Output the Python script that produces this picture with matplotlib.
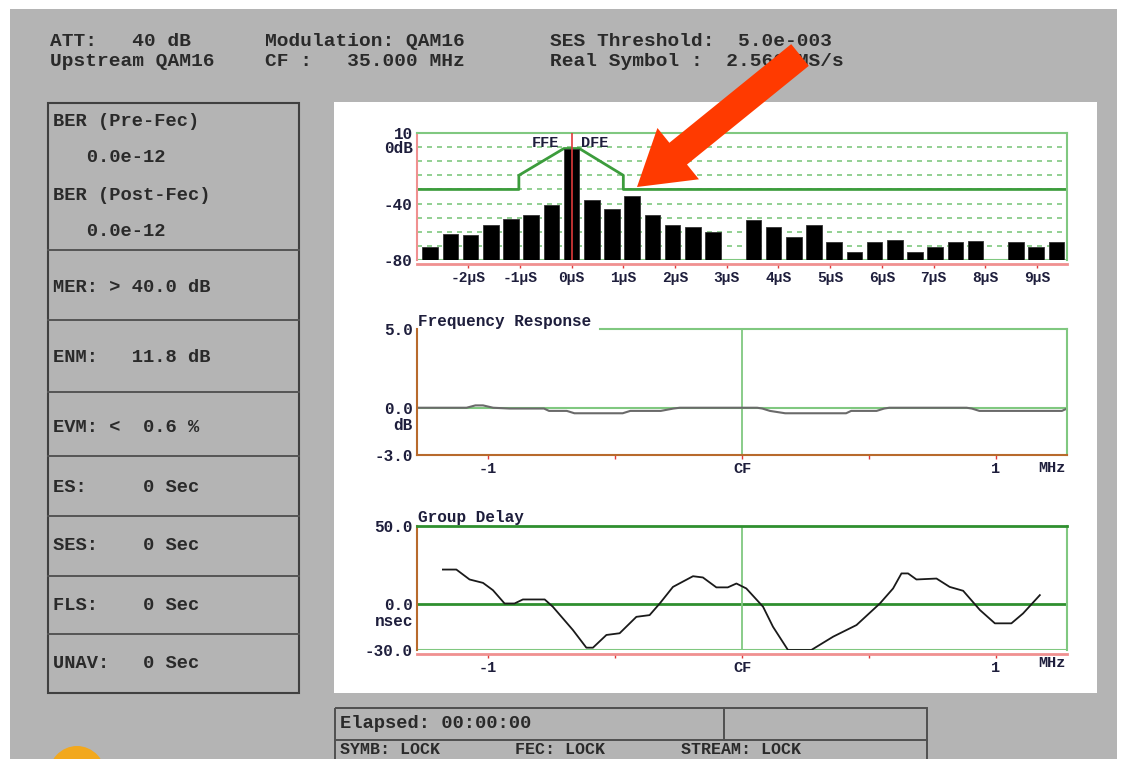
import matplotlib.pyplot as plt
import numpy as np
from matplotlib.patches import Rectangle, FancyArrow, Ellipse

plt.rcParams["font.family"] = ["Liberation Mono", "DejaVu Sans Mono"]
plt.rcParams["font.weight"] = "bold"

W, H = 1131, 759
NAVY = "#1e1e3c"
INK = "#2a2a2a"
GRAY = "#b4b4b4"
LT_GREEN = "#80c880"
DK_GREEN = "#2f8f2f"
MASK_GREEN = "#3c9c3c"
RED = "#e03a3a"
PINK = "#f09090"
BROWN = "#b86a2c"

# equalizer taps, one symbol apart at 2.56 MS/s (nan = no tap shown)
SYMBOL_US = 1 / 2.56
tap_index = np.arange(-7, 25)
tap_db = np.array([-71, -61.5, -62, -55, -51, -48, -41, -1, -37.5, -44, -34.5,
                   -48, -55, -56.5, -60.5, np.nan, -51.5, -56.5, -63.5, -55,
                   -67.5, -74, -67.5, -65.5, -74, -70.5, -67, -66.5, np.nan,
                   -67, -70.5, -67])
mask_us = [-2.99, -1.02, -1.02, -0.15, 0.15, 1.0, 1.0, 9.58]
mask_db = [-30, -30, -20, -1, -1, -20, -30, -30]
us_ticks = list(range(-2, 10))
us_labels = [f"{t}µS" for t in us_ticks]

# frequency response (dB) over +-1.28 MHz around CF
freq_mhz = [-1.28, -1.085, -1.05, -1.02, -0.98, -0.915, -0.78, -0.76, -0.69,
            -0.66, -0.47, -0.44, -0.32, -0.27, -0.245, 0.06, 0.08, 0.11, 0.17,
            0.41, 0.43, 0.53, 0.56, 0.58, 0.885, 0.905, 0.935, 1.26, 1.28]
freq_db = [0, 0, 0.15, 0.15, 0, -0.05, -0.05, -0.2, -0.2, -0.35, -0.35, -0.2,
           -0.2, -0.05, 0, 0, -0.05, -0.2, -0.35, -0.35, -0.2, -0.2, -0.05, 0,
           0, -0.05, -0.2, -0.2, -0.05]

# group delay (nsec)
gd_mhz = [-1.178, -1.125, -1.073, -1.020, -0.981, -0.935, -0.896, -0.863,
          -0.777, -0.745, -0.666, -0.613, -0.587, -0.534, -0.482, -0.416,
          -0.364, -0.324, -0.272, -0.193, -0.154, -0.101, -0.056, -0.022,
          0.017, 0.083, 0.122, 0.181, 0.273, 0.359, 0.451, 0.543, 0.595,
          0.628, 0.654, 0.687, 0.766, 0.818, 0.871, 0.937, 0.996, 1.061,
          1.107, 1.173]
gd_ns = [21.9, 21.9, 15.5, 13.3, 8.6, 0, 0, 2.6, 2.6, -2.1, -17.1, -28.5,
         -28.5, -20.3, -19.2, -8.6, -7.5, 0, 10.7, 17.6, 16.8, 10.4, 10.4,
         12.9, 9.7, -2.1, -15, -30, -30, -21.4, -13.9, 0, 9.7, 19.4, 19.4,
         15.5, 16.1, 10.7, 8.2, -4.2, -12.8, -12.8, -6.4, 5.4]
mhz_ticks = [-1, -0.5, 0, 0.5, 1]
mhz_labels = ["-1", "", "CF", "", "1"]

header = [("ATT:   40 dB", 50, 42), ("Upstream QAM16", 50, 62),
          ("Modulation: QAM16", 265, 42), ("CF :   35.000 MHz", 265, 62),
          ("SES Threshold:  5.0e-003", 550, 42),
          ("Real Symbol :  2.560 MS/s", 550, 62)]
side_rows = [("BER (Pre-Fec)", 53, 122), ("   0.0e-12", 53, 158),
             ("BER (Post-Fec)", 53, 195), ("   0.0e-12", 53, 232),
             ("MER: > 40.0 dB", 53, 287), ("ENM:   11.8 dB", 53, 357),
             ("EVM: <  0.6 %", 53, 427), ("ES:     0 Sec", 53, 487),
             ("SES:    0 Sec", 53, 546), ("FLS:    0 Sec", 53, 605),
             ("UNAV:   0 Sec", 53, 663)]
side_dividers = [250, 320, 392, 456, 516, 576, 634]
status = [("Elapsed: 00:00:00", 340, 723, 13.5), ("SYMB: LOCK", 340, 750, 12),
          ("FEC: LOCK", 515, 750, 12), ("STREAM: LOCK", 681, 750, 12)]


def px_rect(x0, y0, x1, y1):
    return [x0 / W, 1 - y1 / H, (x1 - x0) / W, (y1 - y0) / H]


fig = plt.figure(figsize=(W / 100, H / 100), dpi=100)
fig.patch.set_facecolor("white")

# screen background, drawn in pixel units
bg = fig.add_axes([0, 0, 1, 1])
bg.set_xlim(0, W)
bg.set_ylim(H, 0)
bg.axis("off")
bg.add_patch(Rectangle((10, 9), 1107, 760, facecolor=GRAY, edgecolor="none"))
bg.add_patch(Rectangle((334, 102), 763, 591, facecolor="white", edgecolor="none"))

for txt, x, y in header:
    bg.text(x, y, txt, ha="left", va="center", fontsize=14, color=INK)

bg.add_patch(Rectangle((48, 103), 251, 590, facecolor="none",
                       edgecolor="#404040", lw=1.5))
for y in side_dividers:
    bg.plot([48, 299], [y, y], color="#555555", lw=1.4)
for txt, x, y in side_rows:
    bg.text(x, y, txt, ha="left", va="center", fontsize=13.5, color=INK)

bg.add_patch(Rectangle((335, 708), 592, 70, facecolor="none",
                       edgecolor="#505050", lw=1.4))
bg.plot([335, 927], [740, 740], color="#505050", lw=1.4)
bg.plot([724, 724], [708, 740], color="#505050", lw=1.4)
for txt, x, y, size in status:
    bg.text(x, y, txt, ha="left", va="center", fontsize=size, color=INK)

bg.add_patch(Ellipse((77, 777), 58, 62, facecolor="#f2a81d", edgecolor="none"))
bg.add_patch(Ellipse((79, 781), 40, 44, facecolor="white", edgecolor="none"))

# axis side labels
bg.text(413, 425, "dB", ha="right", va="center", fontsize=11.5, color=NAVY)
bg.text(413, 621, "nsec", ha="right", va="center", fontsize=11.5, color=NAVY)
bg.text(1052, 468, "MHz", ha="center", va="center", fontsize=11, color=NAVY)
bg.text(1052, 663, "MHz", ha="center", va="center", fontsize=11, color=NAVY)


def tick_style(ax, xsize, ysize):
    ax.tick_params(axis="y", length=0, pad=3, labelsize=ysize, labelcolor=NAVY)
    ax.tick_params(axis="x", length=3, width=1, color=RED, pad=2,
                   labelsize=xsize, labelcolor=NAVY)
    ax.set_facecolor("none")


# equalizer taps
ax1 = fig.add_axes(px_rect(417, 133, 1067, 260))
ax1.set_xlim(-2.99, 9.58)
ax1.set_ylim(-80, 10)
for g in range(-70, 10, 10):
    ax1.axhline(g, color=LT_GREEN, lw=1.2, ls=(0, (3, 3)), zorder=1)
ax1.axhline(-80, color=LT_GREEN, lw=1.5, zorder=1)
ok = ~np.isnan(tap_db)
ax1.bar(tap_index[ok] * SYMBOL_US, tap_db[ok] + 80, bottom=-80, width=0.3,
        color="black", edgecolor="#333333", lw=0.6, zorder=3)
ax1.plot(mask_us, mask_db, color=MASK_GREEN, lw=2, zorder=2)
ax1.axvline(0, color=RED, lw=1.2, zorder=4)
ax1.text(-0.5, 2.6, "FFE", ha="center", va="center", fontsize=11, color=NAVY)
ax1.text(0.45, 2.6, "DFE", ha="center", va="center", fontsize=11, color=NAVY)
ax1.set_yticks([10, 0, -40, -80], ["10", "0dB", "-40", "-80"])
ax1.set_xticks(us_ticks, us_labels)
for side in ("top", "right"):
    ax1.spines[side].set_color(LT_GREEN)
    ax1.spines[side].set_linewidth(1.5)
ax1.spines["left"].set_color(PINK)
ax1.spines["left"].set_linewidth(1.5)
ax1.spines["bottom"].set_color(PINK)
ax1.spines["bottom"].set_linewidth(2)
ax1.spines["bottom"].set_position(("outward", 3))
tick_style(ax1, 10.5, 11.5)

# frequency response
ax2 = fig.add_axes(px_rect(417, 329, 1067, 455))
ax2.set_xlim(-1.28, 1.28)
ax2.set_ylim(-3, 5)
ax2.axhline(0, color=LT_GREEN, lw=1.5, zorder=1)
ax2.axvline(0, color=LT_GREEN, lw=1.3, zorder=1)
ax2.plot(freq_mhz, freq_db, color="#6a6a6a", lw=1.5, zorder=2)
ax2.plot([-0.56, 1.28], [5, 5], color=LT_GREEN, lw=1.5, clip_on=False)
ax2.text(0.002, 1.06, "Frequency Response", transform=ax2.transAxes,
         ha="left", va="center", fontsize=11.5, color=NAVY)
ax2.set_yticks([5, 0, -3], ["5.0", "0.0", "-3.0"])
ax2.set_xticks(mhz_ticks, mhz_labels)
ax2.spines["top"].set_visible(False)
ax2.spines["right"].set_color(LT_GREEN)
ax2.spines["right"].set_linewidth(1.5)
for side in ("left", "bottom"):
    ax2.spines[side].set_color(BROWN)
    ax2.spines[side].set_linewidth(1.5)
tick_style(ax2, 11, 11.5)

# group delay
ax3 = fig.add_axes(px_rect(417, 526, 1067, 650))
ax3.set_xlim(-1.28, 1.28)
ax3.set_ylim(-30, 50)
ax3.axhline(0, color=DK_GREEN, lw=2, zorder=1)
ax3.axhline(-30, color=LT_GREEN, lw=1.5, zorder=1)
ax3.axvline(0, color=LT_GREEN, lw=1.3, zorder=1)
ax3.plot(gd_mhz, gd_ns, color="#1a1a1a", lw=1.3, zorder=2)
ax3.text(0.002, 1.065, "Group Delay", transform=ax3.transAxes,
         ha="left", va="center", fontsize=11.5, color=NAVY)
ax3.set_yticks([50, 0, -30], ["50.0", "0.0", "-30.0"])
ax3.set_xticks(mhz_ticks, mhz_labels)
ax3.spines["top"].set_color(DK_GREEN)
ax3.spines["top"].set_linewidth(2)
ax3.spines["right"].set_color(LT_GREEN)
ax3.spines["right"].set_linewidth(1.5)
ax3.spines["left"].set_color(BROWN)
ax3.spines["left"].set_linewidth(1.5)
ax3.spines["bottom"].set_color(PINK)
ax3.spines["bottom"].set_linewidth(2)
ax3.spines["bottom"].set_position(("outward", 3))
tick_style(ax3, 11, 11.5)

# red pointer arrow on top of everything
fg = fig.add_axes([0, 0, 1, 1], zorder=10)
fg.set_xlim(0, W)
fg.set_ylim(H, 0)
fg.axis("off")
fg.patch.set_visible(False)
fg.add_patch(FancyArrow(800, 55, -163, 132, width=28, head_width=66,
                        head_length=53, length_includes_head=True,
                        color="#ff3a00", lw=0))

fig.savefig("out.png", dpi=100)
